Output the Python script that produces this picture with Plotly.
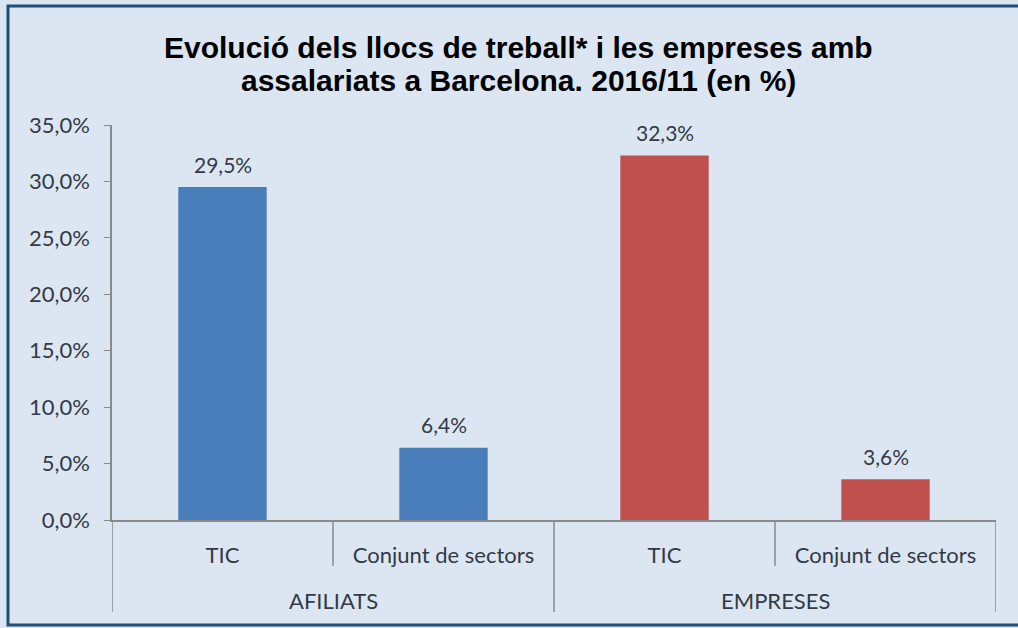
import plotly.graph_objects as go

groups = ["AFILIATS", "EMPRESES"]
categories = ["TIC", "Conjunt de sectors"]
afiliats = [0.295, 0.064]
empreses = [0.323, 0.036]
colors = ["#4a7ebb", "#c0504d"]
title_lines = ["Evolució dels llocs de treball* i les empreses amb",
               "assalariats a Barcelona. 2016/11 (en %)"]

# plot-area geometry in pixels (used to convert to paper coords)
W, H = 1018, 628
L, R, T, B = 112, 996, 125, 520
pw, ph = R - L, B - T

def px_x(x):
    return (x - L) / pw

def px_y(y):
    return (B - y) / ph

TXT = "#333a44"
FS = 22

series = [afiliats, empreses]
n_cat = len(categories)
fig = go.Figure()
labels = []
annotations = []
for gi, (g, vals) in enumerate(zip(groups, series)):
    xs = [gi * n_cat + ci for ci in range(n_cat)]
    labels += categories
    fig.add_trace(go.Bar(
        x=xs, y=vals, name=g, width=0.4,
        marker=dict(color=colors[gi], line=dict(width=0)),
        hovertemplate="%{y:.1%}<extra></extra>",
    ))
    for x, v in zip(xs, vals):
        annotations.append(dict(x=x, y=v, xref="x", yref="y",
                                text=f"{v * 100:.1f}%".replace(".", ","),
                                showarrow=False, yanchor="middle", yshift=23,
                                font=dict(family="Lato", size=FS - 1, color=TXT)))

n_all = len(groups) * n_cat
fig.update_xaxes(
    range=[-0.5, n_all - 0.5],
    tickvals=list(range(n_all)), ticktext=labels,
    ticks="", showline=True, linecolor="#8a8a8a", linewidth=1.5,
    tickfont=dict(family="Lato", size=FS, color=TXT),
    ticklabelstandoff=15, showgrid=False, zeroline=False,
)
fig.update_yaxes(
    range=[0, 0.35], dtick=0.05, tickformat=".1%",
    ticks="outside", ticklen=6, tickcolor="#8a8a8a",
    showline=True, linecolor="#8a8a8a", linewidth=1.5,
    tickfont=dict(family="Lato", size=FS, color=TXT),
    ticklabelstandoff=10,
    showgrid=False, zeroline=False,
)

shapes = []
for b in range(n_all + 1):
    xb = b - 0.5
    long_ = (b % n_cat == 0)
    shapes.append(dict(type="line", xref="x", yref="paper",
                       x0=xb, x1=xb, y0=0, y1=px_y(612 if long_ else 566),
                       line=dict(color="#8a8a8a", width=1.5)))
shapes.append(dict(type="rect", xref="paper", yref="paper",
                   x0=px_x(8), x1=px_x(1030), y0=px_y(625), y1=px_y(6),
                   line=dict(color="#1f4e79", width=3)))

for gi, g in enumerate(groups):
    annotations.append(dict(x=gi * n_cat + (n_cat - 1) / 2, xref="x",
                            y=px_y(600), yref="paper", text=g, showarrow=False,
                            font=dict(family="Lato", size=FS, color=TXT),
                            yanchor="middle"))

for i, (line, ypx) in enumerate(zip(title_lines, [47, 80])):
    annotations.append(dict(x=518 / W, xref="paper", y=1 - ypx / H, yref="paper",
                            text=f"<b>{line}</b>", showarrow=False,
                            xanchor="center", yanchor="middle",
                            font=dict(family="Liberation Sans", size=30, color="#000000")))
# convert title annotations to container-like paper coords
for a in annotations[-2:]:
    a["x"] = px_x(518)
    a["y"] = px_y([47, 80][annotations[-2:].index(a)])

fig.update_layout(
    width=W, height=H,
    margin=dict(l=L, r=W - R, t=T, b=H - B),
    paper_bgcolor="#dce6f2", plot_bgcolor="#dce6f2",
    separators=", ",
    showlegend=False,
    shapes=shapes, annotations=annotations,
)

fig.write_html("out.html", config={"displayModeBar": False})

with open("out.html", encoding="utf-8") as f:
    html = f.read()
html = html.replace("<body>", '<body style="margin:0;padding:0;">', 1)
with open("out.html", "w", encoding="utf-8") as f:
    f.write(html)
